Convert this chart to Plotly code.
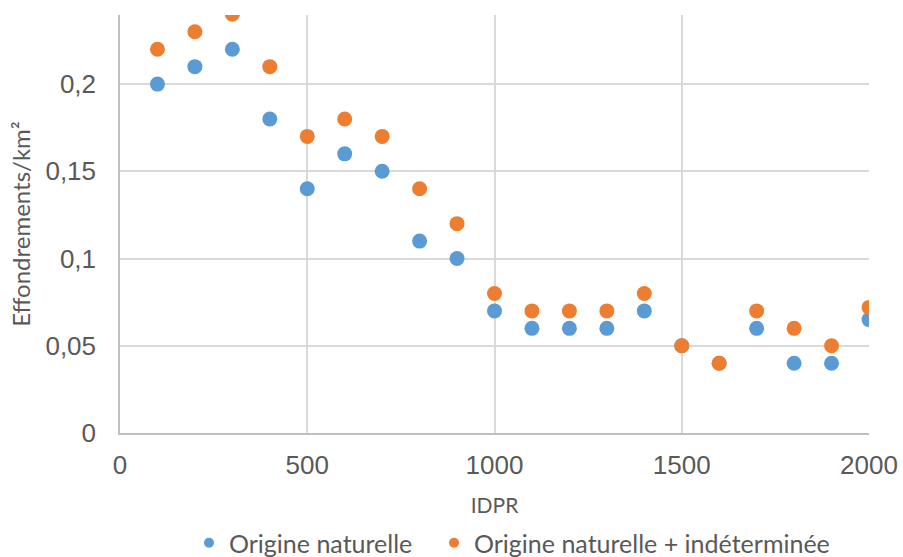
import plotly.graph_objects as go

idpr = [100, 200, 300, 400, 500, 600, 700, 800, 900, 1000,
        1100, 1200, 1300, 1400, 1500, 1600, 1700, 1800, 1900, 2000]
naturelle = [0.20, 0.21, 0.22, 0.18, 0.14, 0.16, 0.15, 0.11, 0.10, 0.07,
             0.06, 0.06, 0.06, 0.07, 0.05, 0.04, 0.06, 0.04, 0.04, 0.065]
naturelle_indet = [0.22, 0.23, 0.24, 0.21, 0.17, 0.18, 0.17, 0.14, 0.12, 0.08,
                   0.07, 0.07, 0.07, 0.08, 0.05, 0.04, 0.07, 0.06, 0.05, 0.072]
series_names = ["Origine naturelle", "Origine naturelle + indéterminée"]

BLUE = "#5B9BD5"
ORANGE = "#ED7D31"
GRID = "#D9D9D9"
TXT = "#595959"
LEGEND_FONT = dict(family="Lato, sans-serif", size=25, color=TXT)

fig = go.Figure()
for i, (vals, col) in enumerate([(naturelle, BLUE), (naturelle_indet, ORANGE)]):
    leg = "legend" if i == 0 else "legend2"
    # data points
    fig.add_trace(go.Scatter(
        x=idpr, y=vals, mode="markers", name=series_names[i],
        marker=dict(color=col, size=15, line=dict(width=0)),
        legendgroup=series_names[i], showlegend=False,
    ))
    # legend entry with a smaller symbol
    fig.add_trace(go.Scatter(
        x=[None], y=[None], mode="markers", name=series_names[i],
        marker=dict(color=col, size=10, line=dict(width=0)),
        legendgroup=series_names[i], showlegend=True, legend=leg,
    ))

legend_common = dict(
    orientation="h", xref="container", yref="container",
    y=0.025, yanchor="middle", xanchor="left",
    font=LEGEND_FONT, itemsizing="trace", itemwidth=30,
    bgcolor="rgba(0,0,0,0)",
)

fig.update_layout(
    width=903, height=557,
    margin=dict(l=120, r=34, t=15, b=124, autoexpand=False),
    plot_bgcolor="white", paper_bgcolor="white",
    separators=", ",
    font=dict(family="Liberation Sans, Arial, sans-serif", color=TXT),
    xaxis=dict(
        range=[0, 2000], tickmode="linear", tick0=0, dtick=500,
        showgrid=True, gridcolor=GRID, gridwidth=1.5,
        showline=True, linecolor="#BFBFBF", linewidth=1.5,
        zeroline=False, ticks="", ticklabelstandoff=8,
        tickfont=dict(size=26, color=TXT),
        title=dict(text="IDPR", font=dict(family="Lato, sans-serif", size=21, color=TXT), standoff=19),
    ),
    yaxis=dict(
        range=[0, 0.2396], tickmode="linear", tick0=0, dtick=0.05,
        showgrid=True, gridcolor=GRID, gridwidth=1.5,
        showline=True, linecolor="#BFBFBF", linewidth=1.5,
        zeroline=False, ticks="", ticklabelstandoff=17,
        tickfont=dict(size=26, color=TXT),
        title=dict(text="Effondrements/km²", font=dict(family="Lato, sans-serif", size=24, color=TXT), standoff=8),
    ),
    legend=dict(x=189 / 903, **legend_common),
    legend2=dict(x=434 / 903, **legend_common),
)

fig.write_html("out.html")
